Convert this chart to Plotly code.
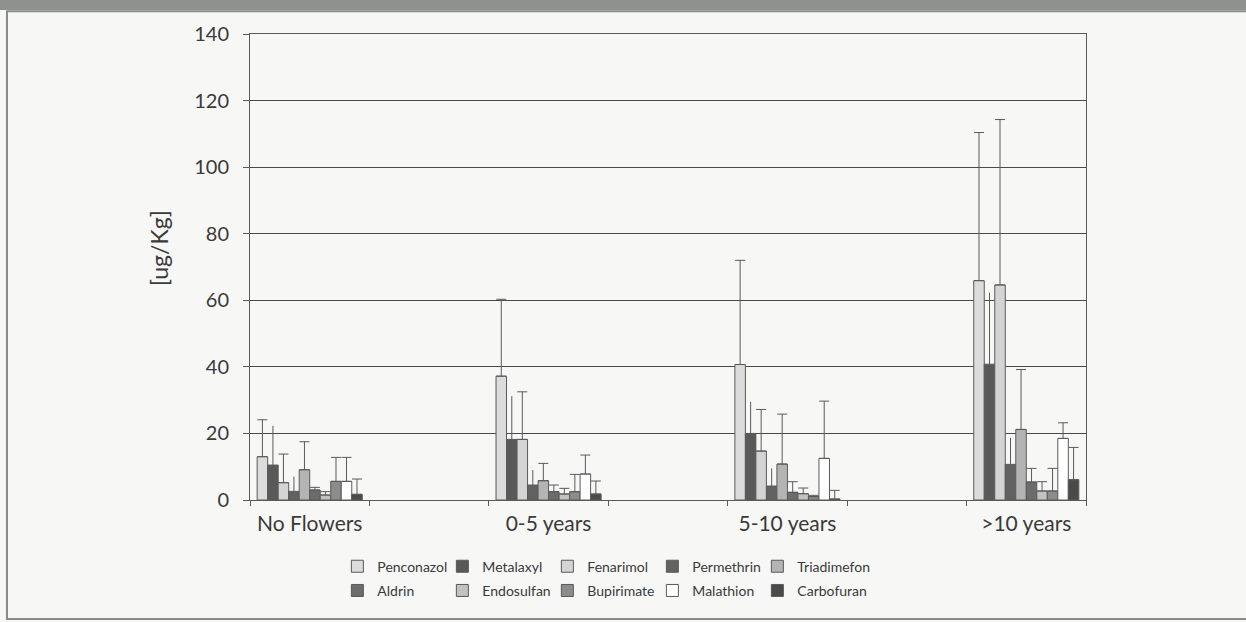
import plotly.graph_objects as go

# Category slots: the unnamed slots are empty spacer columns between groups
categories = ["No Flowers", " ", "0-5 years", "  ", "5-10 years", "   ", ">10 years"]
groups = ["No Flowers", "0-5 years", "5-10 years", ">10 years"]

series = ["Penconazol", "Metalaxyl", "Fenarimol", "Permethrin", "Triadimefon",
          "Aldrin", "Endosulfan", "Bupirimate", "Malathion", "Carbofuran"]

# Mean residue per group, ug/Kg (order follows `groups`)
penconazol = [13.0, 37.2, 40.7, 65.9]
metalaxyl = [10.5, 18.2, 20.0, 40.8]
fenarimol = [5.2, 18.2, 14.7, 64.6]
permethrin = [2.6, 4.5, 4.2, 10.7]
triadimefon = [9.1, 5.8, 10.8, 21.2]
aldrin = [3.0, 2.5, 2.3, 5.4]
endosulfan = [1.5, 1.8, 1.9, 2.7]
bupirimate = [5.6, 2.5, 1.0, 2.7]
malathion = [5.6, 7.8, 12.5, 18.5]
carbofuran = [1.7, 1.8, 0.3, 6.1]

# Standard deviation (upper error bar)
penconazol_sd = [11.1, 23.1, 31.3, 44.5]
metalaxyl_sd = [11.8, 13.0, 9.5, 21.5]
fenarimol_sd = [8.6, 14.3, 12.5, 49.7]
permethrin_sd = [4.4, 4.5, 5.3, 8.0]
triadimefon_sd = [8.4, 5.2, 15.0, 18.0]
aldrin_sd = [0.8, 2.0, 3.2, 4.1]
endosulfan_sd = [1.0, 1.7, 1.7, 2.8]
bupirimate_sd = [7.2, 5.2, 0.4, 6.8]
malathion_sd = [7.2, 5.7, 17.2, 4.7]
carbofuran_sd = [4.6, 3.9, 2.6, 9.7]

means = [penconazol, metalaxyl, fenarimol, permethrin, triadimefon,
         aldrin, endosulfan, bupirimate, malathion, carbofuran]
sds = [penconazol_sd, metalaxyl_sd, fenarimol_sd, permethrin_sd, triadimefon_sd,
       aldrin_sd, endosulfan_sd, bupirimate_sd, malathion_sd, carbofuran_sd]

fills = ["#dcdcdc", "#595959", "#d4d4d4", "#626262", "#b4b4b4",
         "#6c6c6c", "#c2c2c2", "#8c8c8c", "#ffffff", "#4a4a4a"]
cap_half = [5, 0, 5, 0, 5, 5, 5, 5, 5, 5]

FONT = "Lato, 'Open Sans', sans-serif"
TEXT = "#3a3a3a"
LINE = "#5a5a5a"


def spread(vals):
    """Place the four group values into the seven category slots."""
    out = []
    it = iter(vals)
    for c in categories:
        out.append(next(it) if c in groups else None)
    return out


fig = go.Figure()
for i, name in enumerate(series):
    plus = spread(sds[i])
    fig.add_trace(go.Bar(
        name=name,
        x=categories,
        y=spread(means[i]),
        marker=dict(color=fills[i], line=dict(color=LINE, width=1)),
        error_y=dict(type="data", symmetric=False, array=plus,
                     arrayminus=[0 if v is not None else None for v in plus],
                     color=LINE, thickness=1, width=cap_half[i]),
        legend="legend" if i < 5 else "legend2",
    ))

# Blank trailing entry per legend row so the last label is not cut off
for lg in ("legend", "legend2"):
    fig.add_trace(go.Scatter(
        x=[None], y=[None], name="", mode="lines",
        line=dict(width=0, color="rgba(0,0,0,0)"), legend=lg, hoverinfo="skip",
    ))

legend_common = dict(
    orientation="h", xanchor="left", yanchor="middle",
    entrywidth=60, entrywidthmode="pixels",
    font=dict(family=FONT, size=14, color=TEXT),
    bgcolor="rgba(0,0,0,0)", itemwidth=30, tracegroupgap=0,
)

fig.update_layout(
    width=1246, height=622,
    margin=dict(l=250, r=160, t=34, b=122),
    paper_bgcolor="#f7f7f6", plot_bgcolor="#f7f7f6",
    barmode="group", bargap=0.12, bargroupgap=0,
    font=dict(family=FONT, color=TEXT),
    legend=dict(x=0.1045, y=-0.143, **legend_common),
    legend2=dict(x=0.1045, y=-0.195, **legend_common),
    xaxis=dict(
        type="category", categoryorder="array", categoryarray=categories,
        range=[-0.5, 6.5], showgrid=False, zeroline=False,
        showline=True, linecolor=LINE, linewidth=1, mirror=True,
        ticks="outside", tickson="boundaries", ticklen=5, tickcolor=LINE,
        tickfont=dict(family=FONT, size=21, color=TEXT), ticklabelstandoff=5,
    ),
    yaxis=dict(
        range=[0, 140], dtick=20, showgrid=True, gridcolor="#4a4a4a", gridwidth=1,
        zeroline=False, showline=True, linecolor=LINE, linewidth=1, mirror=True,
        ticks="outside", ticklen=6, tickcolor=LINE,
        tickfont=dict(family=FONT, size=20, color=TEXT), ticklabelstandoff=10,
    ),
    annotations=[dict(
        text="[ug/Kg]", xref="paper", yref="paper", x=-0.108, y=0.54,
        xanchor="center", yanchor="middle",
        textangle=-90, showarrow=False,
        font=dict(family=FONT, size=23, color=TEXT),
    )],
    shapes=[
        # page header band and outer frame
        dict(type="rect", xref="paper", yref="paper", x0=-0.31, x1=1.2,
             y0=1.0515, y1=1.08, fillcolor="#8e928e", line=dict(width=0), layer="below"),
        dict(type="rect", xref="paper", yref="paper", x0=-0.2907, x1=1.2,
             y0=-0.2554, y1=1.049, fillcolor="rgba(0,0,0,0)",
             line=dict(color="#8a8a8a", width=2), layer="below"),
    ],
)

fig.write_html("out.html")
